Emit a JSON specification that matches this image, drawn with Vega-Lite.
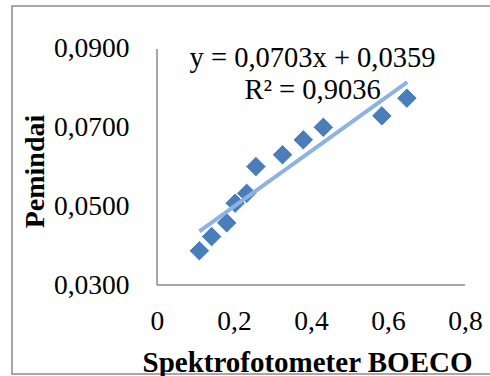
{
  "$schema": "https://vega.github.io/schema/vega-lite/v6.json",
  "width": 480,
  "height": 368,
  "padding": {"left": 12, "top": 6, "right": 0, "bottom": 2},
  "autosize": {"type": "none"},
  "background": "white",
  "config": {
    "view": {"stroke": "#8a8a8a", "strokeWidth": 1.5},
    "locale": {"number": {"decimal": ",", "thousands": ".", "grouping": [3], "currency": ["", ""]}},
    "font": "Liberation Serif"
  },
  "datasets": {
    "points": [
      {"boeco": 0.110, "pemindai": 0.0387},
      {"boeco": 0.142, "pemindai": 0.0423},
      {"boeco": 0.181, "pemindai": 0.0458},
      {"boeco": 0.203, "pemindai": 0.0508},
      {"boeco": 0.233, "pemindai": 0.0533},
      {"boeco": 0.257, "pemindai": 0.0601},
      {"boeco": 0.326, "pemindai": 0.0631},
      {"boeco": 0.380, "pemindai": 0.0669},
      {"boeco": 0.432, "pemindai": 0.0701},
      {"boeco": 0.584, "pemindai": 0.0730},
      {"boeco": 0.649, "pemindai": 0.0775}
    ],
    "trend": [
      {"boeco": 0.11, "pemindai": 0.04363},
      {"boeco": 0.65, "pemindai": 0.08160}
    ],
    "xaxisline": [
      {"boeco": 0, "boeco2": 0.8, "pemindai": 0.03}
    ],
    "yaxisline": [
      {"boeco": 0, "pemindai": 0.03, "pemindai2": 0.09}
    ],
    "labels": [
      {"boeco": 0.404, "pemindai": 0.0877, "text": "y = 0,0703x + 0,0359"},
      {"boeco": 0.404, "pemindai": 0.0796, "text": "R² = 0,9036"}
    ]
  },
  "layer": [
    {
      "data": {"name": "xaxisline"},
      "mark": {"type": "rule", "color": "#8a8a8a", "strokeWidth": 1.5},
      "encoding": {
        "x": {"field": "boeco", "type": "quantitative",
          "scale": {"domain": [-0.37662, 0.87013], "nice": false, "zero": false},
          "axis": {
            "orient": "bottom", "offset": -89, "domain": false, "ticks": false, "grid": false,
            "values": [0, 0.2, 0.4, 0.6, 0.8], "format": ".1~f",
            "labelFont": "Liberation Serif", "labelFontSize": 27.5, "labelColor": "black",
            "labelPadding": 22, "labelFlush": false,
            "title": "Spektrofotometer BOECO", "titleFont": "Liberation Serif", "titleFontSize": 29,
            "titleFontWeight": "bold", "titleColor": "black",
            "titleX": 295, "titleY": 77, "titleAnchor": null, "titleAlign": "center", "titleBaseline": "middle"
          }},
        "x2": {"field": "boeco2"},
        "y": {"field": "pemindai", "type": "quantitative",
          "scale": {"domain": [0.007373, 0.100932], "nice": false, "zero": false},
          "axis": {
            "orient": "left", "offset": -145, "domain": false, "ticks": false, "grid": false,
            "values": [0.03, 0.05, 0.07, 0.09], "format": ".4f",
            "labelFont": "Liberation Serif", "labelFontSize": 27.5, "labelColor": "black",
            "labelPadding": 28, "labelFlush": false,
            "title": "Pemindai", "titleFont": "Liberation Serif", "titleFontSize": 28,
            "titleFontWeight": "bold", "titleColor": "black",
            "titleX": -122, "titleY": 165, "titleAngle": -90, "titleAlign": "center", "titleBaseline": "middle"
          }}
      }
    },
    {
      "data": {"name": "yaxisline"},
      "mark": {"type": "rule", "color": "#8a8a8a", "strokeWidth": 1.5},
      "encoding": {
        "x": {"field": "boeco", "type": "quantitative"},
        "y": {"field": "pemindai", "type": "quantitative"},
        "y2": {"field": "pemindai2"}
      }
    },
    {
      "data": {"name": "points"},
      "mark": {"type": "point", "shape": "diamond", "filled": true, "size": 420, "color": "#4A7EBB", "stroke": "white", "strokeWidth": 1, "opacity": 1},
      "encoding": {
        "x": {"field": "boeco", "type": "quantitative"},
        "y": {"field": "pemindai", "type": "quantitative"}
      }
    },
    {
      "data": {"name": "trend"},
      "mark": {"type": "line", "color": "#8DB3E2", "strokeWidth": 4},
      "encoding": {
        "x": {"field": "boeco", "type": "quantitative"},
        "y": {"field": "pemindai", "type": "quantitative"}
      }
    },
    {
      "data": {"name": "labels"},
      "mark": {"type": "text", "font": "Liberation Serif", "fontSize": 28.5, "color": "black", "align": "center", "baseline": "middle"},
      "encoding": {
        "x": {"field": "boeco", "type": "quantitative"},
        "y": {"field": "pemindai", "type": "quantitative"},
        "text": {"field": "text"}
      }
    }
  ]
}
